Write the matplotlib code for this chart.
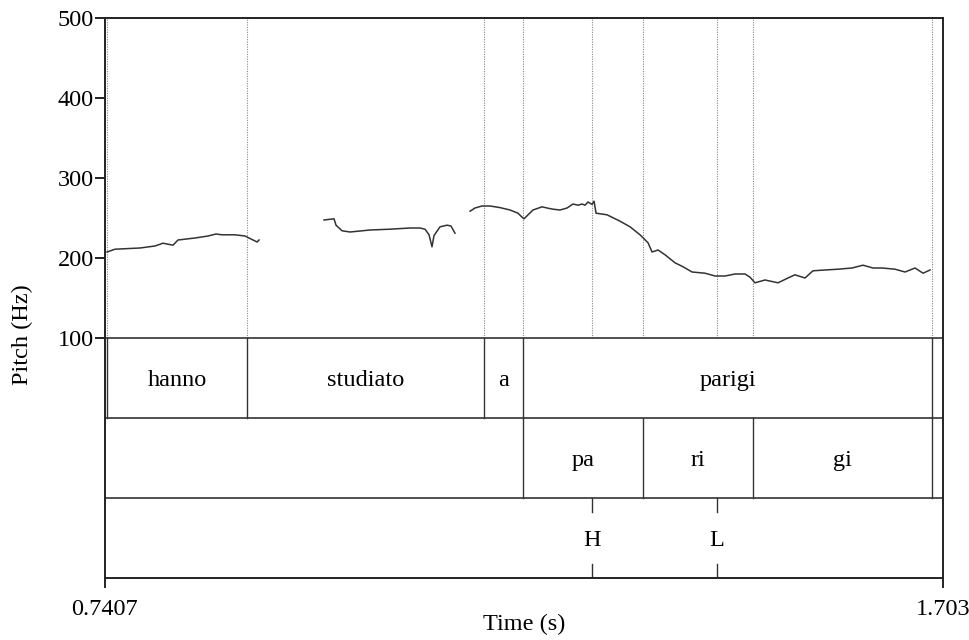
import numpy as np
import matplotlib
matplotlib.use("Agg")
import matplotlib.pyplot as plt

plt.rcParams['font.family'] = ['Liberation Serif', 'DejaVu Serif']

# ---- data ----
t_start, t_end = 0.7407, 1.703

seg1_t = [0.7430, 0.7522, 0.7809, 0.7981, 0.8073, 0.8188, 0.8245, 0.8441, 0.8590,
          0.8682, 0.8751, 0.8900, 0.9015, 0.9107, 0.9153, 0.9176]
seg1_f0 = [207.5, 211, 212.5, 215, 218.5, 216, 222.5, 225, 227.5,
           230, 229, 229, 227.5, 222.5, 220, 222.5]

seg2_t = [0.9922, 1.0037, 1.0060, 1.0129, 1.0221, 1.0450, 1.0680, 1.0910, 1.1024,
          1.1082, 1.1128, 1.1162, 1.1185, 1.1254, 1.1335, 1.1380, 1.1426]
seg2_f0 = [247.5, 249, 241, 234, 232.5, 235, 236, 237.5, 237.5,
           236, 229, 214, 228, 239, 241, 240, 231]

seg3_t = [1.1599, 1.1656, 1.1736, 1.1828, 1.1943, 1.2058, 1.2150, 1.2196, 1.2219,
          1.2265, 1.2322, 1.2426, 1.2483, 1.2552, 1.2632, 1.2713, 1.2781, 1.2839,
          1.2885, 1.2919, 1.2954, 1.3000, 1.3023, 1.3046, 1.3172, 1.3321, 1.3436,
          1.3551, 1.3643, 1.3689, 1.3758, 1.3838, 1.3953, 1.4045, 1.4148, 1.4297,
          1.4412, 1.4527, 1.4642, 1.4757, 1.4814, 1.4871, 1.4986, 1.5136, 1.5250,
          1.5330, 1.5445, 1.5537, 1.5675, 1.5824, 1.5985, 1.6111, 1.6226, 1.6330,
          1.6479, 1.6594, 1.6709, 1.6801, 1.6881]
seg3_f0 = [258.5, 262.5, 265, 265, 263, 260, 256, 251, 249,
           254, 260, 264, 262.5, 261, 260, 262.5, 267.5, 266,
           267.5, 266, 270, 267, 271, 256, 254, 246, 239,
           229, 219, 207.5, 210, 204, 194, 189, 182.5, 181,
           177.5, 177.5, 180, 180, 176, 169, 172.5, 169, 175,
           179, 175, 184, 185, 186, 187.5, 191, 187.5, 187.5,
           186, 182.5, 187.5, 181, 185]

words = ["hanno", "studiato", "a", "parigi"]
word_bounds = [0.7430, 0.9038, 1.1759, 1.2207, 1.6904]

syllables = ["pa", "ri", "gi"]
syl_bounds = [1.2207, 1.3585, 1.4848, 1.6904]

tones = ["H", "L"]
tone_times = [1.3000, 1.4435]

y_ticks = [100, 200, 300, 400, 500]

FS = 17.5

# ---- figure ----
fig = plt.figure(figsize=(9.7, 6.4), dpi=100)
ax = fig.add_axes([105/970, 1-578/640, 838/970, 560/640])
ax.set_xlim(t_start, t_end)
ax.set_ylim(-200, 500)

# dotted guide lines in pitch area
guide_times = sorted(set(word_bounds + syl_bounds + tone_times))
for t in guide_times:
    ax.plot([t, t], [100, 500], color='#888888', lw=0.8, ls=(0, (1, 1.2)), zorder=1)

# pitch trace
for tt, ff in [(seg1_t, seg1_f0), (seg2_t, seg2_f0), (seg3_t, seg3_f0)]:
    ax.plot(tt, ff, color='#333333', lw=1.1, zorder=3)

# tier separators
for y in [100, 0, -100]:
    ax.axhline(y, color='#333333', lw=1.2, zorder=2)

# word tier
for t in word_bounds:
    ax.plot([t, t], [0, 100], color='#333333', lw=1.0)
for i, w in enumerate(words):
    ax.text((word_bounds[i] + word_bounds[i+1]) / 2, 50, w, ha='center',
            va='center_baseline', fontsize=FS)

# syllable tier
for t in syl_bounds:
    ax.plot([t, t], [-100, 0], color='#333333', lw=1.0)
for i, s in enumerate(syllables):
    ax.text((syl_bounds[i] + syl_bounds[i+1]) / 2, -50, s, ha='center',
            va='center_baseline', fontsize=FS)

# tone tier
for t, lab in zip(tone_times, tones):
    ax.plot([t, t], [-100, -118], color='#333333', lw=1.0)
    ax.plot([t, t], [-182, -200], color='#333333', lw=1.0)
    ax.text(t, -150, lab, ha='center', va='center_baseline', fontsize=FS)

# axes styling
for sp in ax.spines.values():
    sp.set_linewidth(1.4)
    sp.set_color('#222222')
ax.set_yticks(y_ticks)
ax.set_yticklabels([str(v) for v in y_ticks], fontsize=FS)
ax.set_xticks([t_start, t_end])
ax.set_xticklabels(["0.7407", "1.703"], fontsize=FS)
ax.tick_params(axis='y', direction='out', length=7, width=1.2, pad=1)
ax.tick_params(axis='x', direction='out', length=7, width=1.2, pad=8)

fig.text(22/970, 1-335/640, "Pitch (Hz)", rotation=90, ha='center', va='center', fontsize=FS)
fig.text(524/970, 1-624/640, "Time (s)", ha='center', va='center', fontsize=FS)

fig.savefig("out.png", dpi=100, facecolor='white')
